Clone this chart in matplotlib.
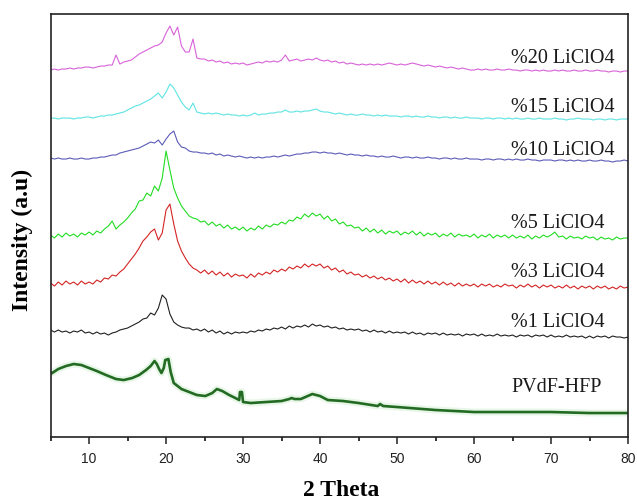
import numpy as np
import matplotlib
matplotlib.use("Agg")
import matplotlib.pyplot as plt
from matplotlib.ticker import MultipleLocator

# XRD patterns of PVdF-HFP / LiClO4 films, stacked with an offset
two_theta = np.arange(5, 80.01, 0.5)

li20 = [366, 367, 366, 367, 367, 368, 367, 368, 368, 369,
        369, 368, 369, 370, 370, 371, 371, 381, 372, 374,
        375, 376, 379, 382, 384, 386, 388, 390, 391, 394,
        403, 410, 401, 409, 390, 384, 384, 397, 378, 377,
        377, 375, 376, 374, 375, 373, 374, 372, 373, 372,
        373, 371, 372, 373, 374, 373, 375, 374, 375, 374,
        376, 381, 375, 376, 377, 375, 376, 377, 376, 378,
        376, 375, 376, 374, 375, 373, 374, 372, 373, 372,
        371, 372, 371, 372, 371, 372, 371, 372, 373, 372,
        371, 372, 371, 372, 373, 372, 371, 370, 371, 370,
        369, 370, 369, 368, 369, 368, 367, 368, 367, 366,
        366, 367, 366, 367, 366, 366, 367, 366, 366, 367,
        366, 366, 365, 366, 366, 365, 366, 365, 366, 365,
        365, 366, 365, 366, 365, 365, 366, 365, 365, 366,
        365, 365, 366, 365, 365, 364, 365, 365, 364, 365,
        365]

li15 = [318, 318, 317, 318, 318, 318, 317, 318, 318, 319,
        319, 318, 319, 320, 320, 321, 321, 322, 323, 324,
        326, 328, 330, 331, 333, 335, 337, 340, 343, 338,
        344, 352, 348, 341, 334, 329, 326, 333, 324, 323,
        322, 323, 322, 323, 322, 321, 322, 321, 321, 320,
        321, 320, 321, 323, 321, 322, 322, 323, 323, 324,
        324, 326, 324, 324, 325, 324, 325, 325, 326, 327,
        325, 324, 324, 323, 322, 323, 322, 321, 322, 321,
        321, 322, 321, 321, 320, 321, 320, 321, 320, 320,
        320, 319, 320, 320, 319, 320, 319, 319, 320, 319,
        319, 318, 319, 319, 318, 319, 318, 318, 319, 318,
        318, 318, 317, 318, 318, 317, 318, 318, 317, 318,
        317, 318, 317, 317, 318, 317, 317, 318, 317, 317,
        317, 318, 317, 317, 316, 317, 317, 318, 317, 317,
        317, 316, 317, 317, 316, 317, 317, 316, 317, 317,
        317]

li10 = [278, 277, 278, 277, 277, 278, 277, 277, 278, 277,
        277, 278, 278, 279, 279, 280, 281, 281, 283, 284,
        285, 286, 287, 288, 290, 292, 294, 293, 296, 291,
        297, 302, 305, 294, 289, 288, 285, 284, 284, 283,
        283, 282, 283, 281, 282, 280, 281, 280, 279, 280,
        279, 278, 279, 278, 279, 278, 279, 279, 280, 279,
        280, 281, 280, 281, 282, 282, 283, 283, 284, 284,
        283, 284, 283, 283, 282, 283, 282, 281, 282, 281,
        281, 280, 281, 280, 280, 279, 280, 279, 279, 280,
        279, 278, 279, 279, 278, 279, 278, 278, 279, 278,
        278, 277, 278, 278, 277, 278, 277, 277, 278, 277,
        277, 277, 276, 277, 277, 276, 277, 277, 276, 277,
        276, 277, 276, 276, 277, 276, 276, 275, 276, 276,
        276, 275, 276, 276, 275, 276, 275, 276, 275, 275,
        276, 275, 275, 276, 275, 275, 274, 275, 275, 276,
        275]

li5 = [201, 198, 202, 199, 203, 200, 202, 199, 203, 201,
       204, 201, 205, 203, 207, 210, 215, 207, 211, 214,
       218, 223, 227, 235, 236, 243, 240, 250, 245, 258,
       285, 266, 248, 238, 230, 225, 220, 218, 217, 214,
       215, 211, 214, 210, 212, 208, 211, 207, 209, 206,
       209, 205, 208, 206, 210, 207, 211, 209, 212, 211,
       214, 212, 216, 215, 219, 217, 222, 219, 223, 220,
       222, 217, 220, 215, 217, 212, 214, 210, 211, 208,
       209, 205, 208, 204, 207, 203, 206, 202, 205, 203,
       205, 201, 204, 202, 205, 201, 204, 200, 203, 201,
       203, 199, 202, 200, 203, 199, 202, 200, 201, 199,
       202, 198, 201, 199, 202, 198, 201, 199, 201, 198,
       201, 198, 200, 198, 201, 197, 200, 198, 201, 199,
       201, 204, 199, 200, 197, 200, 198, 199, 197, 200,
       198, 199, 196, 199, 197, 198, 196, 199, 197, 198,
       198]

li3 = [153, 150, 154, 151, 155, 152, 154, 151, 155, 152,
       154, 152, 156, 154, 158, 157, 161, 160, 164, 167,
       172, 177, 182, 188, 195, 199, 204, 207, 196, 203,
       226, 232, 212, 195, 185, 178, 172, 168, 166, 163,
       166, 162, 165, 161, 164, 160, 163, 159, 162, 160,
       161, 158, 162, 159, 163, 161, 164, 162, 166, 164,
       167, 165, 169, 167, 170, 168, 172, 169, 172, 170,
       172, 168, 170, 166, 168, 164, 166, 162, 164, 161,
       162, 159, 161, 158, 160, 157, 159, 156, 158, 155,
       157, 154, 157, 153, 156, 153, 155, 152, 155, 152,
       154, 151, 154, 151, 153, 150, 153, 150, 152, 150,
       152, 149, 152, 150, 152, 149, 151, 149, 152, 150,
       151, 148, 151, 149, 152, 149, 151, 148, 151, 149,
       151, 148, 150, 148, 151, 148, 150, 147, 150, 148,
       150, 147, 150, 148, 150, 147, 149, 147, 150, 148,
       149]

li1 = [106, 104, 106, 104, 105, 103, 105, 104, 106, 103,
       104, 102, 104, 102, 103, 101, 103, 104, 106, 107,
       108, 110, 112, 114, 117, 118, 123, 121, 128, 141,
       137, 122, 114, 111, 109, 108, 108, 106, 107, 105,
       107, 104, 106, 103, 105, 102, 104, 102, 104, 103,
       104, 103, 105, 104, 106, 105, 107, 106, 108, 107,
       109, 107, 110, 108, 110, 109, 111, 109, 112, 110,
       111, 109, 110, 108, 109, 107, 108, 106, 107, 106,
       107, 105, 106, 104, 106, 104, 105, 103, 105, 103,
       104, 103, 104, 102, 104, 102, 103, 101, 103, 102,
       103, 101, 103, 101, 102, 101, 102, 100, 102, 101,
       102, 100, 102, 100, 101, 100, 102, 100, 101, 100,
       101, 99, 101, 100, 101, 99, 101, 100, 101, 99,
       101, 99, 100, 99, 101, 99, 100, 99, 100, 98,
       100, 98, 100, 99, 100, 98, 100, 99, 99, 98,
       99]

# pure polymer pattern is smooth, so it has its own sampling
pvdf_x = [5.2, 6, 7, 8, 9, 10, 11, 12.2, 13.5, 14.5, 15.6, 16.5, 17.4, 18.0,
          18.5, 18.8, 19.1, 19.4, 19.7, 19.9, 20.3, 20.6, 21.0, 22.0, 23.0,
          24.0, 25.1, 26.0, 26.6, 27.3, 28.2, 29.0, 29.5, 29.6, 29.85, 30.0,
          31.0, 33.0, 35.0, 36.0, 36.3, 36.7, 37.5, 39.0, 40.0, 41.0, 43.0,
          45.0, 47.5, 47.8, 48.2, 50.0, 55, 60, 65, 70, 75, 80]
pvdf_y = [63, 67, 70, 72, 71, 68, 65, 61, 57, 56, 58, 61, 66, 70,
          75, 72, 67, 63, 68, 76, 77, 64, 53, 47, 44,
          41, 40, 43, 47, 45, 41, 38, 36, 44, 44, 34,
          33, 34, 35, 37, 38, 37, 37, 42, 40, 36, 35,
          33, 30, 32, 30, 29, 26, 24, 24, 24, 23, 23]

names = ["%20 LiClO4", "%15 LiClO4", "%10 LiClO4", "%5 LiClO4",
         "%3 LiClO4", "%1 LiClO4", "PVdF-HFP"]
colors = ["#d862d8", "#5fe3e3", "#5b5bb8", "#22dd22", "#d42424", "#202020", "#236b23"]
label_y = [378, 329, 286, 213, 164, 114, 49]

fig = plt.figure(figsize=(6.37, 5.01), dpi=100)
ax = fig.add_axes([0.0794, 0.1277, 0.9065, 0.8443])

for ys, c in zip([li20, li15, li10, li5, li3, li1], colors[:6]):
    ax.plot(two_theta, ys, color=c, lw=0.8)

# soft halo under the polymer trace
ax.plot(pvdf_x, pvdf_y, color="#7fd07f", lw=5, alpha=0.18, solid_capstyle="round")
ax.plot(pvdf_x, pvdf_y, color=colors[6], lw=1.9)

for name, ly in zip(names, label_y):
    ax.text(64.8, ly, name, ha="left", va="center", fontsize=14.5,
            family="Liberation Serif", color="#1a1a1a")

ax.set_xlim(5, 80)
ax.set_ylim(-1, 422)
ax.xaxis.set_major_locator(MultipleLocator(10))
ax.xaxis.set_minor_locator(MultipleLocator(5))
ax.tick_params(axis="x", which="major", direction="out", length=5, width=1.1,
               labelsize=10, colors="#222222", pad=6)
ax.tick_params(axis="x", which="minor", direction="out", length=2.8, width=1.1)
ax.set_yticks([])
for lab in ax.get_xticklabels():
    lab.set_family("Liberation Sans")
for s in ax.spines.values():
    s.set_linewidth(1.2)
    s.set_color("#222222")

fig.text(22 / 637, 1 - 240 / 501, "Intensity (a.u)", rotation=90, ha="center",
         va="center", fontsize=17, fontweight="bold", family="Liberation Serif")
fig.text(341 / 637, 1 - 490 / 501, "2 Theta", ha="center", va="center",
         fontsize=17, fontweight="bold", family="Liberation Serif")

fig.savefig("out.png", dpi=100)
